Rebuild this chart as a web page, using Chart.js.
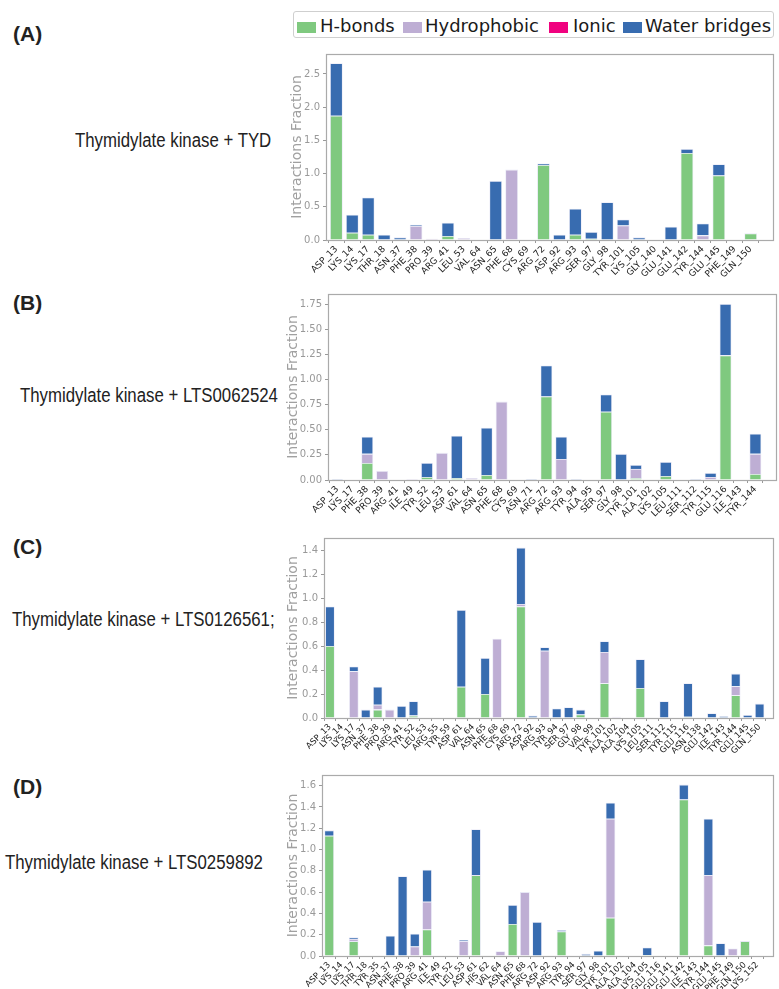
<!DOCTYPE html>
<html><head><meta charset="utf-8">
<script src="https://cdn.jsdelivr.net/npm/chart.js@4.4.1/dist/chart.umd.min.js"></script>
<style>
html,body{margin:0;padding:0;background:#fff;width:779px;height:989px;overflow:hidden;position:relative;}
.box{position:absolute;}
.lbl{position:absolute;font-family:"Liberation Sans",Arial,sans-serif;color:#222;white-space:nowrap;line-height:24px;}
.pl{font-weight:bold;font-size:21px;transform:translateY(-50%);}
.tt{font-size:20px;transform-origin:left center;transform:translateY(-50%) scaleX(0.84);}
#legend{position:absolute;left:293px;top:11px;width:479px;height:25px;border:1px solid #cfcfcf;border-radius:3px;font-family:"DejaVu Sans";font-size:18px;color:#1a1a1a;}
.sw{position:absolute;top:10px;width:19px;height:11px;}
.lt{position:absolute;top:5px;line-height:18px;white-space:nowrap;}
</style>
</head>
<body>
<div id="legend">
  <div class="sw" style="left:3px;background:#7fc97f"></div><div class="lt" style="left:26px">H-bonds</div>
  <div class="sw" style="left:109px;background:#beaed4"></div><div class="lt" style="left:131px">Hydrophobic</div>
  <div class="sw" style="left:255px;background:#f0027f"></div><div class="lt" style="left:279px">Ionic</div>
  <div class="sw" style="left:329px;background:#386cb0"></div><div class="lt" style="left:351px">Water bridges</div>
</div>
<div class="lbl pl" style="left:13px;top:34px">(A)</div>
<div class="lbl tt" style="left:75px;top:140px">Thymidylate kinase + TYD</div>
<div class="lbl pl" style="left:13px;top:303px">(B)</div>
<div class="lbl tt" style="left:20px;top:395px">Thymidylate kinase + LTS0062524</div>
<div class="lbl pl" style="left:13px;top:547px">(C)</div>
<div class="lbl tt" style="left:12px;top:619px">Thymidylate kinase + LTS0126561;</div>
<div class="lbl pl" style="left:13px;top:787px">(D)</div>
<div class="lbl tt" style="left:5px;top:862px">Thymidylate kinase + LTS0259892</div>

<div class="box" style="left:289px;top:44px;width:494px;height:241px"><canvas id="cA"></canvas></div>
<div class="box" style="left:285px;top:284px;width:501px;height:241px"><canvas id="cB"></canvas></div>
<div class="box" style="left:285px;top:528px;width:498px;height:240px"><canvas id="cC"></canvas></div>
<div class="box" style="left:285px;top:765px;width:498px;height:224px"><canvas id="cD"></canvas></div>

<script>
// ---------- Panel A: Thymidylate kinase + TYD ----------
const resA = ["ASP_13","LYS_14","LYS_17","THR_18","ASN_37","PHE_38","PRO_39","ARG_41","LEU_53","VAL_64","ASN_65","PHE_68","CYS_69","ARG_72","ASP_92","ARG_93","SER_97","GLY_98","TYR_101","LYS_105","GLY_140","GLU_141","GLU_142","TYR_144","GLU_145","PHE_149","GLN_150"];
const hbA = [1.87,0.11,0.08,0,0,0,0,0.06,0,0,0,0,0,1.13,0,0.08,0.02,0,0,0,0,0,1.31,0,0.97,0,0.10];
const hyA = [0,0,0,0,0,0.21,0.02,0,0.03,0,0,1.06,0,0,0,0,0,0,0.22,0,0,0,0,0.07,0,0,0];
const ioA = [0,0,0,0,0,0,0,0,0,0,0,0,0,0,0,0,0,0,0,0,0,0,0,0,0,0,0];
const wbA = [0.79,0.27,0.56,0.08,0.04,0.02,0,0.20,0,0,0.89,0,0,0.02,0.08,0.39,0.10,0.57,0.09,0.04,0,0.20,0.06,0.18,0.17,0,0];

// ---------- Panel B: Thymidylate kinase + LTS0062524 ----------
const resB = ["ASP_13","LYS_17","PHE_38","PRO_39","ARG_41","ILE_49","TYR_52","LEU_53","ASP_61","VAL_64","ASN_65","PHE_68","CYS_69","ASN_71","ARG_72","ARG_93","TYR_94","ALA_95","SER_97","GLY_98","TYR_101","ALA_102","LYS_105","LEU_111","SER_112","TYR_115","GLU_116","ILE_143","TYR_144"];
const hbB = [0,0,0.17,0,0,0,0.03,0,0.02,0, 0.05,0,0,0,0.83,0,0,0,0.68,0, 0.02,0,0.04,0,0,0,1.24,0,0.06];
const hyB = [0,0,0.09,0.09,0,0.01,0,0.27,0,0.02, 0,0.78,0,0,0,0.21,0,0,0,0, 0.09,0.005,0,0,0,0.03,0,0,0.20];
const ioB = [0,0,0,0,0,0,0,0,0,0, 0,0,0,0,0,0,0,0,0,0, 0,0,0,0,0,0,0,0,0];
const wbB = [0.01,0,0.17,0,0,0,0.14,0,0.42,0, 0.47,0,0,0.01,0.31,0.22,0.01,0,0.17,0.26, 0.04,0,0.14,0,0.01,0.04,0.51,0,0.20];

// ---------- Panel C: Thymidylate kinase + LTS0126561 ----------
const resC = ["ASP_13","LYS_14","LYS_17","ASN_37","PHE_38","PRO_39","ARG_41","TYR_52","LEU_53","ARG_55","TYR_59","ASP_61","VAL_64","ASN_65","PHE_68","CYS_69","ARG_72","ASP_92","ARG_93","TYR_94","SER_97","GLY_98","VAL_99","TYR_101","ALA_102","ALA_104","LYS_105","LEU_111","SER_112","TYR_115","GLU_116","ASN_138","GLU_142","ILE_143","TYR_144","GLU_145","GLN_150"];
const hbC = [0.60,0,0,0,0.07,0,0,0.02,0,0, 0,0.26,0,0.20,0,0,0.93,0,0,0, 0.005,0.03,0,0.29,0,0,0.25,0,0,0, 0.01,0,0,0,0.19,0,0];
const hyC = [0,0,0.39,0,0.04,0.07,0,0,0.005,0, 0,0,0.005,0,0.66,0,0.02,0,0.56,0, 0,0,0,0.26,0.01,0,0,0,0,0, 0,0,0,0,0.075,0,0];
const ioC = [0,0,0,0,0,0,0,0,0,0, 0,0,0,0,0,0,0,0,0,0, 0,0,0,0,0,0,0,0,0,0, 0,0,0,0,0,0,0];
const wbC = [0.33,0,0.04,0.07,0.15,0,0.10,0.12,0,0, 0,0.64,0,0.30,0,0,0.47,0.02,0.03,0.08, 0.085,0.04,0,0.09,0,0,0.24,0,0.14,0, 0.28,0,0.04,0.015,0.105,0.025,0.12];

// ---------- Panel D: Thymidylate kinase + LTS0259892 ----------
const resD = ["ASP_13","LYS_14","LYS_17","THR_18","TYR_35","ASN_37","PHE_38","PRO_39","ARG_41","ILE_49","TYR_52","LEU_53","ASP_61","HIS_62","VAL_64","ASN_65","PHE_68","ARG_72","ASP_92","ARG_93","TYR_94","SER_97","GLY_98","TYR_101","ALA_102","ALA_104","LYS_105","GLU_116","GLU_141","GLU_142","ILE_143","TYR_144","GLU_145","PHE_149","GLN_150","LYS_152"];
const hbD = [1.13,0,0.14,0,0,0.005,0.005,0,0.25,0, 0,0,0.76,0,0,0.30,0,0,0,0.23, 0,0,0.005,0.36,0,0,0.01,0,0,1.47, 0,0.10,0,0,0.14,0];
const hyD = [0,0,0.02,0,0,0,0,0.09,0.26,0, 0,0.14,0,0,0.045,0,0.60,0,0,0, 0,0,0,0.93,0,0,0,0,0,0, 0.005,0.66,0,0.07,0,0];
const ioD = [0,0,0,0,0,0,0,0,0,0, 0,0,0,0,0,0,0,0,0,0, 0,0,0,0,0,0,0,0,0,0, 0,0,0,0,0,0];
const wbD = [0.05,0.005,0.015,0,0.005,0.185,0.745,0.12,0.30,0, 0.005,0.01,0.43,0,0,0.18,0,0.32,0.005,0.015, 0,0.02,0.045,0.15,0,0,0.07,0.005,0.005,0.14, 0,0.53,0.12,0,0,0];

const seriesNames = ["H-bonds","Hydrophobic","Ionic","Water bridges"];
const seriesColors = ["#7fc97f","#beaed4","#f0027f","#386cb0"];

const framePlugin = {
  id:'frame',
  afterDraw(c){
    const a=c.chartArea, ctx=c.ctx;
    ctx.save();
    ctx.strokeStyle='#aaaaaa'; ctx.lineWidth=1.2;
    ctx.strokeRect(Math.round(a.left)+0.5, Math.round(a.top)+0.5, Math.round(a.right-a.left), Math.round(a.bottom-a.top));
    ctx.restore();
  }
};

function makePanel(id, res, series, opt){
  const n = res.length;
  new Chart(document.getElementById(id), {
    type:'bar',
    data:{datasets: series.map((arr,k)=>({
      label: seriesNames[k],
      data: arr.map((v,i)=>({x:i,y:v})),
      backgroundColor: seriesColors[k],
      borderColor:'rgba(230,230,245,0.9)',
      borderWidth:0.8,
      barPercentage:0.8,
      categoryPercentage:1.0
    }))},
    options:{
      responsive:true, maintainAspectRatio:false, animation:false,
      layout:{padding:{left:0,right:10,top:10,bottom:0}},
      plugins:{legend:{display:false},tooltip:{enabled:false}},
      scales:{
        x:{
          type:'linear', stacked:true, bounds:'data', offset:false,
          min:-opt.lg, max:n-1+opt.rg,
          afterBuildTicks:s=>{ s.ticks = res.map((_,i)=>({value:i})); },
          ticks:{autoSkip:false,minRotation:45,maxRotation:45,padding:1,
                 font:{family:'DejaVu Sans',size:opt.xf},color:'#222',
                 callback:v=>res[v]},
          grid:{drawOnChartArea:false,drawTicks:true,tickLength:3,color:'#999'},
          border:{display:false},
          afterFit:s=>{ s.height = opt.xh; }
        },
        y:{
          stacked:true, min:0, max:opt.ymax, bounds:'data',
          ticks:{stepSize:opt.step,font:{family:'DejaVu Sans',size:10},color:'#999',padding:3,
                 callback:v=>Number(v).toFixed(opt.dec)},
          afterBuildTicks:s=>{ s.ticks = s.ticks.filter(t=>Math.abs(t.value/opt.step-Math.round(t.value/opt.step))<1e-6); },
          grid:{drawOnChartArea:false,drawTicks:true,tickLength:3,color:'#999'},
          border:{display:false},
          title:{display:true,text:'Interactions Fraction',font:{family:'DejaVu Sans',size:14},color:'#a0a0a0',padding:{top:0,bottom:0}},
          afterFit:s=>{ s.width = opt.yw; }
        }
      }
    },
    plugins:[framePlugin]
  });
}

makePanel('cA', resA, [hbA,hyA,ioA,wbA], {ymax:2.8, step:0.5, dec:1, yw:37, xh:45, lg:0.65, rg:1.40, xf:9});
makePanel('cB', resB, [hbB,hyB,ioB,wbB], {ymax:1.85, step:0.25, dec:2, yw:43, xh:45, lg:0.63, rg:1.38, xf:9});
makePanel('cC', resC, [hbC,hyC,ioC,wbC], {ymax:1.5, step:0.2, dec:1, yw:39, xh:50, lg:0.50, rg:1.12, xf:8.5});
makePanel('cD', resD, [hbD,hyD,ioD,wbD], {ymax:1.7, step:0.2, dec:1, yw:37, xh:33, lg:0.59, rg:1.29, xf:8.5});
</script>
</body></html>
